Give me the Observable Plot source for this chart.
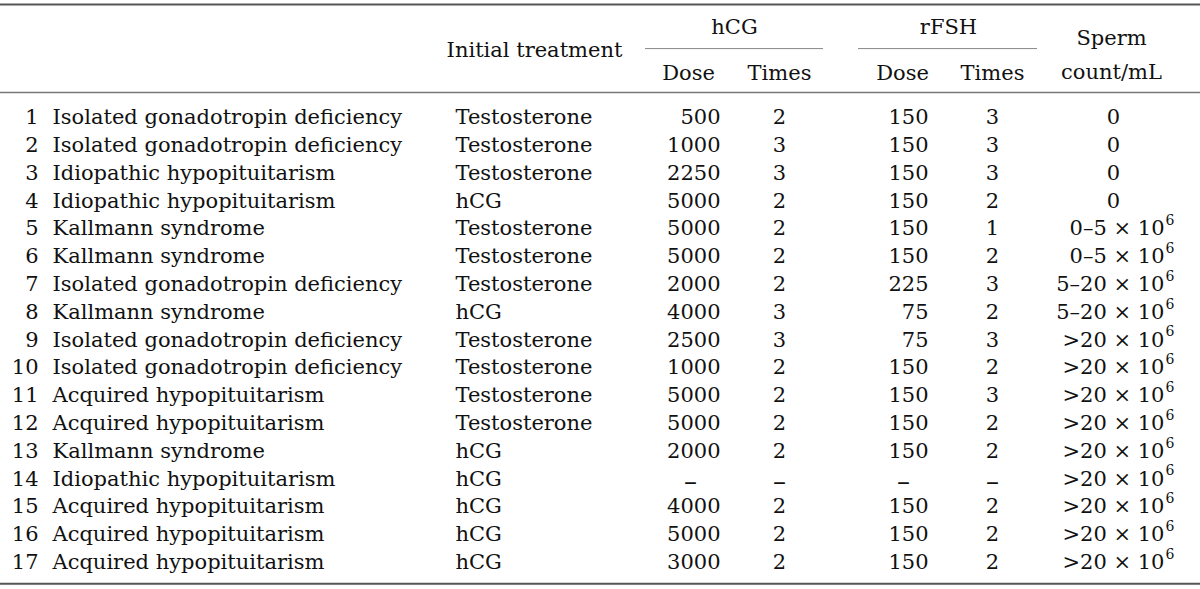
<!DOCTYPE html>
<html>
<head>
<meta charset="utf-8">
<script src="https://cdn.jsdelivr.net/npm/d3@7"></script>
<script src="https://cdn.jsdelivr.net/npm/@observablehq/plot@0.6"></script>
<style>
  html, body { margin: 0; padding: 0; background: #fff; }
</style>
</head>
<body>
<div id="chart"></div>
<script>
// ---- data ----
const ids = [1,2,3,4,5,6,7,8,9,10,11,12,13,14,15,16,17];
const diagnosis = [
  "Isolated gonadotropin deficiency","Isolated gonadotropin deficiency","Idiopathic hypopituitarism",
  "Idiopathic hypopituitarism","Kallmann syndrome","Kallmann syndrome","Isolated gonadotropin deficiency",
  "Kallmann syndrome","Isolated gonadotropin deficiency","Isolated gonadotropin deficiency",
  "Acquired hypopituitarism","Acquired hypopituitarism","Kallmann syndrome","Idiopathic hypopituitarism",
  "Acquired hypopituitarism","Acquired hypopituitarism","Acquired hypopituitarism"
];
const initialTreatment = [
  "Testosterone","Testosterone","Testosterone","hCG","Testosterone","Testosterone","Testosterone","hCG",
  "Testosterone","Testosterone","Testosterone","Testosterone","hCG","hCG","hCG","hCG","hCG"
];
const hcgDose   = [500,1000,2250,5000,5000,5000,2000,4000,2500,1000,5000,5000,2000,null,4000,5000,3000];
const hcgTimes  = [2,3,3,2,2,2,2,3,3,2,2,2,2,null,2,2,2];
const rfshDose  = [150,150,150,150,150,150,225,75,75,150,150,150,150,null,150,150,150];
const rfshTimes = [3,3,3,2,1,2,3,2,3,2,3,2,2,null,2,2,2];
// sperm count/mL: base text, with an exponent of 6 where given
const spermBase = [
  "0","0","0","0","0–5 × 10","0–5 × 10","5–20 × 10","5–20 × 10",
  ">20 × 10",">20 × 10",">20 × 10",">20 × 10",">20 × 10",">20 × 10",">20 × 10",">20 × 10",">20 × 10"
];
const spermExp = [null,null,null,null,"6","6","6","6","6","6","6","6","6","6","6","6","6"];
const headerLabels = ["Initial treatment","hCG","rFSH","Dose","Times","Dose","Times","Sperm","count/mL"];

// ---- layout (pixels / row units) ----
const W = 1200, H = 589;
const col = {num: 38, diag: 52, init: 455, hDose: 720, hTimes: 779, rDose: 928, rTimes: 992,
             spermEnd: 1164, spermExp: 1165, spermZero: 1113, hDash: 690, rDash: 903};
const FONT = "DejaVu Serif";
const FS = 21;

const rows = ids.map((id, i) => ({
  i, id,
  diag: diagnosis[i],
  init: initialTreatment[i],
  hDose: hcgDose[i], hTimes: hcgTimes[i], rDose: rfshDose[i], rTimes: rfshTimes[i],
  sperm: spermBase[i], exp: spermExp[i]
}));
const has = (k) => rows.filter(d => d[k] != null);
const missing = (k) => rows.filter(d => d[k] == null);

const headerPos = [
  {x: 534, y: -2.43}, {x: 734, y: -3.24}, {x: 948, y: -3.24},
  {x: 688, y: -1.58}, {x: 779, y: -1.58}, {x: 902, y: -1.58}, {x: 992, y: -1.58},
  {x: 1111, y: -2.84}, {x: 1111, y: -1.62}
];
const headers = headerLabels.map((t, k) => ({t, ...headerPos[k]}));

const thickRules = [{y: -4.07, x1: 0, x2: 1200}, {y: 16.77, x1: 0, x2: 1200}];
const midRules = [{y: -0.9, x1: 0, x2: 1200}];
const subRules = [{y: -2.48, x1: 645, x2: 823}, {y: -2.48, x1: 858, x2: 1037}];

const common = {fontFamily: FONT, fontSize: FS, fill: "#111"};
const dash = {fontFamily: FONT, fontSize: 26, fill: "#111", dy: 3, textAnchor: "middle"};

const chart = Plot.plot({
  width: W, height: H,
  margin: 0,
  x: {domain: [0, W], range: [0, W], axis: null},
  y: {domain: [-4.21, 16.98], range: [0, H], axis: null},
  style: {background: "#fff"},
  marks: [
    Plot.ruleY(thickRules, {y: "y", x1: "x1", x2: "x2", stroke: "#555", strokeWidth: 2}),
    Plot.ruleY(midRules, {y: "y", x1: "x1", x2: "x2", stroke: "#777", strokeWidth: 1.5}),
    Plot.ruleY(subRules, {y: "y", x1: "x1", x2: "x2", stroke: "#888", strokeWidth: 1}),
    Plot.text(headers, {x: "x", y: "y", text: "t", textAnchor: "middle", ...common}),
    Plot.text(rows, {x: () => col.num, y: "i", text: d => String(d.id), textAnchor: "end", ...common}),
    Plot.text(rows, {x: () => col.diag, y: "i", text: "diag", textAnchor: "start", ...common}),
    Plot.text(rows, {x: () => col.init, y: "i", text: "init", textAnchor: "start", ...common}),
    Plot.text(has("hDose"), {x: () => col.hDose, y: "i", text: d => String(d.hDose), textAnchor: "end", ...common}),
    Plot.text(missing("hDose"), {x: () => col.hDash, y: "i", text: () => "–", ...dash}),
    Plot.text(has("hTimes"), {x: () => col.hTimes, y: "i", text: d => String(d.hTimes), textAnchor: "middle", ...common}),
    Plot.text(missing("hTimes"), {x: () => col.hTimes, y: "i", text: () => "–", ...dash}),
    Plot.text(has("rDose"), {x: () => col.rDose, y: "i", text: d => String(d.rDose), textAnchor: "end", ...common}),
    Plot.text(missing("rDose"), {x: () => col.rDash, y: "i", text: () => "–", ...dash}),
    Plot.text(has("rTimes"), {x: () => col.rTimes, y: "i", text: d => String(d.rTimes), textAnchor: "middle", ...common}),
    Plot.text(missing("rTimes"), {x: () => col.rTimes, y: "i", text: () => "–", ...dash}),
    Plot.text(missing("exp"), {x: () => col.spermZero, y: "i", text: "sperm", textAnchor: "middle", ...common}),
    Plot.text(has("exp"), {x: () => col.spermEnd, y: "i", text: "sperm", textAnchor: "end", ...common}),
    Plot.text(has("exp"), {x: () => col.spermExp, y: "i", text: "exp", textAnchor: "start", dy: -8, fontFamily: FONT, fontSize: 14, fill: "#111"})
  ]
});
document.getElementById("chart").appendChild(chart);
</script>
</body>
</html>
